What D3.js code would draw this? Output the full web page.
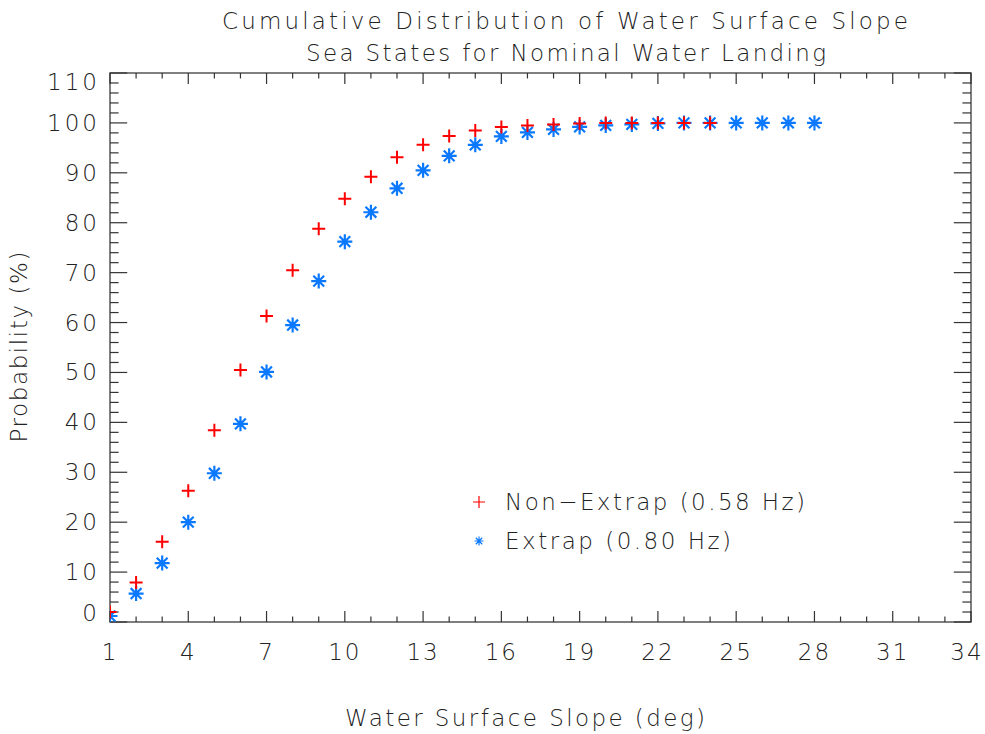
<!DOCTYPE html>
<html>
<head>
<meta charset="utf-8">
<script src="https://cdn.jsdelivr.net/npm/d3@7"></script>
<style>
  body { margin: 0; background: #fff; }
  text { font-family: "DejaVu Sans", sans-serif; font-weight: 200; fill: #222; }
</style>
</head>
<body>
<div id="chart"></div>
<script>
// slope values (deg)
var slopeRed = d3.range(1, 25);
var slopeBlue = d3.range(1, 29);
var nonExtrap = [2.0, 7.9, 16.1, 26.3, 38.4, 50.5, 61.3, 70.5, 78.8, 84.8, 89.2, 93.1,
    95.6, 97.4, 98.5, 99.2, 99.5, 99.7, 99.9, 100, 100, 100, 100, 100];
var extrap = [1.2, 5.7, 11.8, 20.0, 29.8, 39.7, 50.1, 59.5, 68.3, 76.2, 82.1, 86.9,
    90.5, 93.4, 95.6, 97.3, 98.1, 98.7, 99.2, 99.5, 99.7, 99.9, 100, 100, 100, 100, 100, 100];
var xTicks = [1, 4, 7, 10, 13, 16, 19, 22, 25, 28, 31, 34];
var yTicks = [0, 10, 20, 30, 40, 50, 60, 70, 80, 90, 100, 110];
var legendLabels = ["Non\u2212Extrap (0.58 Hz)", "Extrap (0.80 Hz)"];

var width = 985, height = 734;
var margin = {top: 73, left: 110, right: 14, bottom: 112};
var red = "#ff0000", blue = "#0a78ff", axisColor = "#555";

var svg = d3.select("#chart").append("svg")
    .attr("width", width)
    .attr("height", height);

var xScale = d3.scaleLinear().domain([1, 34]).range([margin.left, width - margin.right]);
var yScale = d3.scaleLinear().domain([0, 110]).range([height - margin.bottom, margin.top]);

var x0 = xScale.range()[0], x1 = xScale.range()[1];
var y0 = yScale.range()[0], y1 = yScale.range()[1];
var xTickLen = 0.02 * (y0 - y1);
var yTickLen = 0.02 * (x1 - x0);

// frame
svg.append("rect")
    .attr("x", x0).attr("y", y1)
    .attr("width", x1 - x0).attr("height", y0 - y1)
    .attr("fill", "none").attr("stroke", axisColor).attr("stroke-width", 1.5);

var ticks = svg.append("g").attr("stroke", "#333").attr("stroke-width", 1.2);

// x ticks (every unit, major every 3), bottom and top
d3.range(1, 35).forEach(function(v) {
    var major = (v - 1) % 3 == 0;
    var len = major ? xTickLen : xTickLen / 2;
    ticks.append("line").attr("x1", xScale(v)).attr("x2", xScale(v))
        .attr("y1", y0).attr("y2", y0 - len);
    ticks.append("line").attr("x1", xScale(v)).attr("x2", xScale(v))
        .attr("y1", y1).attr("y2", y1 + len);
});

// y ticks (every 2, major every 10), left and right
d3.range(0, 111, 2).forEach(function(v) {
    var major = v % 10 == 0;
    var len = major ? yTickLen : yTickLen / 2;
    ticks.append("line").attr("y1", yScale(v)).attr("y2", yScale(v))
        .attr("x1", x0).attr("x2", x0 + len);
    ticks.append("line").attr("y1", yScale(v)).attr("y2", yScale(v))
        .attr("x1", x1).attr("x2", x1 - len);
});

// tick labels
svg.selectAll(".xlab").data(xTicks).enter().append("text")
    .attr("class", "xlab")
    .attr("x", function(d) { return d == 34 ? xScale(d) - 4 : xScale(d); })
    .attr("y", y0 + 38)
    .attr("text-anchor", "middle")
    .style("font-size", "23px")
    .style("letter-spacing", "2px")
    .text(function(d) { return d; });

svg.selectAll(".ylab").data(yTicks).enter().append("text")
    .attr("class", "ylab")
    .attr("x", x0 - 10)
    .attr("y", function(d) {
        var off = 0;
        if (d == 0) off = -9;
        if (d == 110) off = 9;
        return yScale(d) + off + 8;
    })
    .attr("text-anchor", "end")
    .style("font-size", "23px")
    .style("letter-spacing", "3px")
    .text(function(d) { return d; });

// symbols
var plotArea = svg.append("g");
svg.append("clipPath").attr("id", "clip").append("rect")
    .attr("x", x0).attr("y", y1).attr("width", x1 - x0).attr("height", y0 - y1);
plotArea.attr("clip-path", "url(#clip)");

function plusPath(s) {
    return "M" + (-s) + ",0H" + s + "M0," + (-s) + "V" + s;
}
function starPath(s) {
    var d = s * 0.72;
    return plusPath(s) + "M" + (-d) + "," + (-d) + "L" + d + "," + d +
        "M" + (-d) + "," + d + "L" + d + "," + (-d);
}

plotArea.selectAll(".blue").data(extrap).enter().append("path")
    .attr("class", "blue")
    .attr("transform", function(d, i) { return "translate(" + xScale(slopeBlue[i]) + "," + yScale(d) + ")"; })
    .attr("d", starPath(7.5))
    .attr("fill", "none").attr("stroke", blue).attr("stroke-width", 2.2);

plotArea.selectAll(".red").data(nonExtrap).enter().append("path")
    .attr("class", "red")
    .attr("transform", function(d, i) { return "translate(" + xScale(slopeRed[i]) + "," + yScale(d) + ")"; })
    .attr("d", plusPath(6.5))
    .attr("fill", "none").attr("stroke", red).attr("stroke-width", 2);

// legend
var legend = svg.append("g");
legend.append("path").attr("transform", "translate(479,502)")
    .attr("d", plusPath(6)).attr("fill", "none").attr("stroke", red).attr("stroke-width", 1.2);
legend.append("path").attr("transform", "translate(479,541)")
    .attr("d", starPath(4.5)).attr("fill", "none").attr("stroke", blue).attr("stroke-width", 1.2);
var legendWidths = [300, 226];
legend.selectAll(".leg").data(legendLabels).enter().append("text")
    .attr("x", 505)
    .attr("y", function(d, i) { return 510 + i * 39; })
    .attr("textLength", function(d, i) { return legendWidths[i]; })
    .attr("lengthAdjust", "spacing")
    .style("font-size", "23px")
    .text(function(d) { return d; });

// titles
function label(txt, x, y, len) {
    return svg.append("text").attr("x", x).attr("y", y).attr("text-anchor", "middle")
        .attr("textLength", len).attr("lengthAdjust", "spacing")
        .style("font-size", "23px").text(txt);
}
label("Cumulative Distribution of Water Surface Slope", 565, 29, 686);
label("Sea States for Nominal Water Landing", 566, 61, 520);
label("Water Surface Slope (deg)", 525, 726, 360);
label("Probability (%)", 0, 0, 191)
    .attr("transform", "translate(27,347) rotate(-90)");
</script>
</body>
</html>
